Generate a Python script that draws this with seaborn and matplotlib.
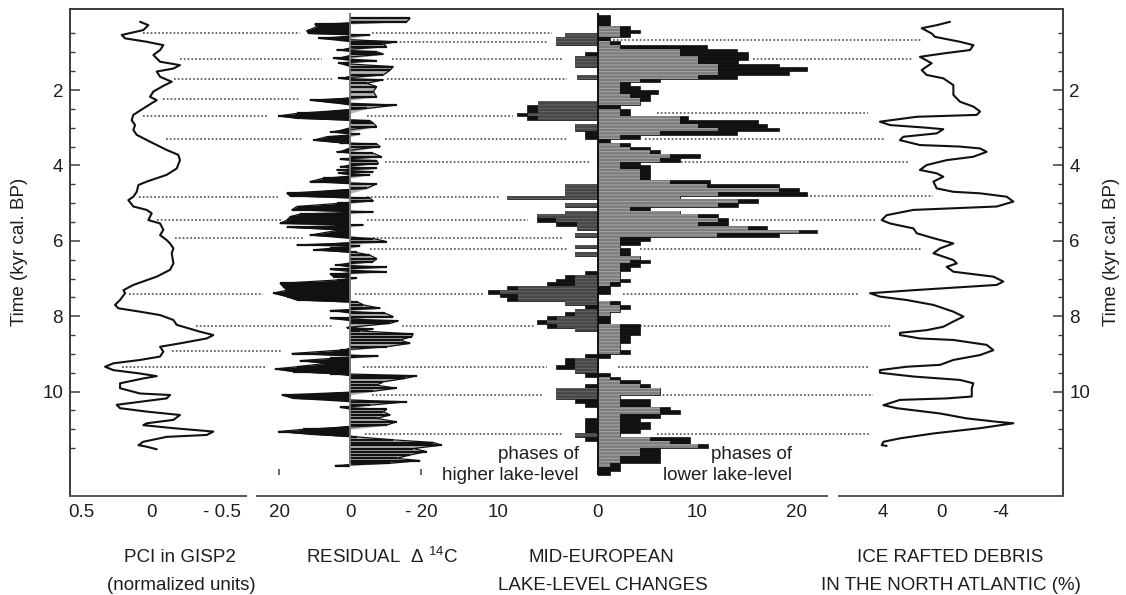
import numpy as np
import matplotlib
matplotlib.use("Agg")
import matplotlib.pyplot as plt
import seaborn as sns

# ---------------- data ----------------
# PCI in GISP2 (normalized units) vs time (kyr cal. BP)
pci_time = [0.19, 0.28, 0.41, 0.54, 0.63, 0.72, 0.81, 0.94, 1.07, 1.25,
            1.34, 1.43, 1.51, 1.65, 1.78, 1.89, 2.04, 2.18, 2.27, 2.35,
            2.49, 2.66, 2.80, 2.93, 3.06, 3.19, 3.37, 3.59, 3.72, 3.86,
            4.08, 4.25, 4.43, 4.52, 4.70, 4.83, 4.92, 5.09, 5.18, 5.27,
            5.45, 5.54, 5.71, 5.85, 5.98, 6.07, 6.20, 6.33, 6.60, 6.77,
            6.95, 7.17, 7.31, 7.39, 7.57, 7.70, 7.79, 7.88, 7.97, 8.10,
            8.23, 8.41, 8.50, 8.59, 8.72, 8.81, 8.94, 9.07, 9.16, 9.25,
            9.34, 9.43, 9.52, 9.59, 9.65, 9.78, 9.91, 10.05, 10.09, 10.18,
            10.27, 10.35, 10.44, 10.53, 10.62, 10.75, 10.84, 10.89, 10.97, 11.06,
            11.15, 11.20, 11.33, 11.42, 11.46, 11.53]
pci_value = [0.083, 0.024, 0.060, 0.214, 0.190, 0.036, -0.083, -0.060, -0.012, -0.060,
             -0.202, -0.155, -0.036, -0.060, -0.143, -0.083, -0.012, 0.012, -0.036, 0.000,
             0.060, 0.131, 0.143, 0.119, 0.131, 0.107, 0.012, -0.107, -0.190, -0.202,
             -0.179, -0.107, 0.036, 0.095, 0.107, 0.131, 0.167, 0.131, 0.036, 0.000,
             0.024, -0.060, -0.083, -0.060, -0.107, -0.131, -0.155, -0.143, -0.155, -0.131,
             -0.036, 0.131, 0.202, 0.190, 0.226, 0.262, 0.238, 0.083, -0.060, -0.155,
             -0.179, -0.345, -0.440, -0.393, -0.202, -0.060, -0.083, -0.060, 0.083, 0.274,
             0.333, 0.274, 0.083, -0.036, 0.060, 0.226, 0.226, 0.083, -0.131, -0.107,
             0.083, 0.250, 0.226, 0.036, -0.202, -0.155, 0.036, 0.060, -0.155, -0.440,
             -0.393, -0.107, 0.060, 0.095, 0.036, -0.036]

# Residual delta 14C
res_time = [0.10, 0.19, 0.25, 0.32, 0.43, 0.50, 0.54, 0.63, 0.72, 0.78,
            0.85, 0.94, 0.98, 1.05, 1.16, 1.22, 1.29, 1.38, 1.47, 1.60,
            1.69, 1.73, 1.82, 1.91, 2.04, 2.18, 2.27, 2.33, 2.40, 2.49,
            2.62, 2.69, 2.75, 2.81, 2.88, 2.97, 3.11, 3.17, 3.24, 3.33,
            3.40, 3.43, 3.50, 3.64, 3.68, 3.77, 3.84, 3.87, 3.95, 4.03,
            4.08, 4.12, 4.17, 4.21, 4.25, 4.34, 4.43, 4.49, 4.61, 4.74,
            4.81, 4.87, 4.94, 5.01, 5.09, 5.18, 5.23, 5.29, 5.36, 5.45,
            5.54, 5.58, 5.64, 5.71, 5.85, 5.94, 6.02, 6.11, 6.14, 6.20,
            6.24, 6.31, 6.38, 6.47, 6.55, 6.64, 6.70, 6.76, 6.82, 6.88,
            6.95, 6.99, 7.04, 7.13, 7.22, 7.31, 7.39, 7.48, 7.57, 7.63,
            7.70, 7.79, 7.85, 7.92, 8.01, 8.06, 8.12, 8.19, 8.30, 8.34,
            8.39, 8.47, 8.54, 8.63, 8.72, 8.81, 8.90, 8.99, 9.06, 9.12,
            9.18, 9.25, 9.34, 9.40, 9.47, 9.52, 9.58, 9.65, 9.74, 9.83,
            9.91, 9.99, 10.09, 10.18, 10.27, 10.36, 10.42, 10.47, 10.53, 10.62,
            10.71, 10.80, 10.89, 11.00, 11.06, 11.13, 11.20, 11.28, 11.35, 11.42,
            11.51, 11.59, 11.68, 11.77, 11.83, 11.90, 11.96]
res_value = [-16.9, -16.0, 9.9, 9.4, 12.2, 11.7, -5.6, 8.9, -13.1, -9.4,
             -10.3, 3.8, -7.5, -9.4, 4.7, -7.5, 3.3, -12.2, -11.3, -9.4,
             3.3, -9.4, -4.7, -7.5, -6.6, -7.5, 11.3, 5.6, -13.1, -4.7,
             15.0, 20.2, 15.0, -5.6, -6.6, -7.5, 5.6, -2.8, 6.6, 10.3,
             2.8, -7.5, -8.5, 3.8, -6.6, -8.9, 2.8, -7.5, -8.0, 2.8,
             -7.5, 3.8, -6.6, 3.3, -5.6, 7.5, 11.3, -7.5, -4.7, 17.8,
             16.9, -5.6, -6.6, 3.8, 15.0, 16.4, -6.6, 14.1, 16.9, 17.8,
             19.7, -3.8, 17.8, 2.8, 11.3, -6.6, -10.3, 15.0, -2.8, 5.6,
             10.3, -1.9, -5.6, -7.5, -6.6, 4.2, -10.3, 5.6, -10.3, 5.6,
             4.7, -1.9, 3.8, 19.7, 18.8, 17.8, 21.6, 17.8, 15.0, -2.3,
             -3.8, -8.5, 5.6, -9.9, -12.2, 5.6, -13.6, -11.3, 0.9, -6.6,
             -2.8, -17.8, -17.4, -14.1, -16.9, -10.3, 2.8, 16.4, -8.0, 5.6,
             14.1, 6.6, 15.0, 21.1, 16.0, 5.6, -18.8, -15.5, -9.4, -7.5,
             -13.1, -6.6, 19.2, 16.0, -16.0, -5.6, 2.8, -10.3, -9.4, -11.3,
             -7.5, -13.1, -10.3, 13.1, 20.2, 11.3, -1.9, -12.2, -23.5, -25.8,
             -17.8, -21.6, -16.9, -13.1, -19.7, -11.3, 4.2]

# Mid-European lake-level changes, 0.1 kyr bins starting at 0.0 kyr
lake_bin_start = 0.0
lake_bin_width = 0.1
lower_outer = [1.2, 1.2, 1.2, 3.2, 4.3, 3.2, 1.2, 2.2, 11.0, 14.0,
               15.1, 15.1, 14.1, 18.2, 21.0, 19.2, 14.0, 6.3, 3.2, 4.3,
               6.1, 5.3, 5.3, 4.3, 2.2, 3.2, 3.2, 9.1, 16.1, 17.0,
               18.2, 14.0, 4.3, 1.2, 3.2, 5.3, 6.3, 10.3, 8.3, 4.3,
               5.3, 5.3, 5.3, 5.3, 11.3, 18.2, 20.2, 21.0, 8.3, 16.1,
               14.1, 5.3, 8.3, 12.1, 13.1, 13.1, 17.0, 22.0, 18.2, 5.3,
               4.3, 2.2, 3.2, 3.2, 4.3, 5.3, 4.3, 3.2, 2.2, 2.2,
               3.2, 2.2, 1.2, 1.2, 0.0, 0.0, 2.2, 3.2, 2.2, 1.2,
               1.2, 1.2, 4.3, 4.3, 4.3, 3.2, 3.2, 2.2, 2.2, 3.2,
               1.2, 0.0, 0.0, 0.0, 0.0, 1.2, 2.2, 4.3, 5.3, 6.3,
               6.3, 2.2, 5.3, 5.3, 7.3, 8.3, 6.3, 4.3, 5.3, 5.3,
               4.3, 2.2, 9.3, 9.3, 11.1, 6.3, 6.3, 6.3, 6.3, 2.2,
               2.2, 1.2]
lower_inner = [0.0, 0.0, 0.0, 2.2, 2.2, 2.2, 0.0, 1.2, 2.2, 8.3,
               8.3, 10.1, 10.1, 12.1, 12.1, 12.1, 10.1, 4.3, 2.2, 2.2,
               2.2, 3.2, 4.3, 4.3, 0.0, 2.2, 2.2, 8.3, 8.3, 10.1,
               12.1, 6.3, 2.2, 0.0, 2.2, 3.2, 5.3, 7.3, 6.3, 2.2,
               2.2, 4.3, 4.3, 4.3, 7.3, 11.0, 18.2, 12.1, 8.3, 14.1,
               12.1, 3.2, 8.3, 10.1, 12.1, 10.1, 15.1, 20.2, 12.0, 2.2,
               2.2, 2.2, 2.2, 2.2, 4.3, 3.2, 2.2, 2.2, 2.2, 2.2,
               2.2, 1.2, 0.0, 0.0, 0.0, 0.0, 1.2, 2.2, 2.2, 1.2,
               0.0, 0.0, 2.2, 2.2, 2.2, 2.2, 2.2, 2.2, 2.2, 2.2,
               0.0, 0.0, 0.0, 0.0, 0.0, 0.0, 1.2, 2.2, 4.3, 6.3,
               6.3, 2.2, 2.2, 2.2, 6.3, 6.3, 2.2, 2.2, 2.2, 2.2,
               2.2, 2.2, 5.3, 7.3, 10.1, 4.3, 4.3, 2.2, 2.2, 1.2,
               0.0, 0.0]
higher_outer = [0.0, 0.0, 0.0, 0.0, 0.0, 3.3, 4.2, 4.2, 0.0, 0.0,
                1.3, 2.3, 2.3, 2.3, 0.0, 0.0, 2.1, 0.0, 0.0, 0.0,
                0.0, 0.0, 0.0, 6.0, 7.1, 7.1, 8.1, 7.1, 0.0, 2.3,
                2.3, 1.3, 1.3, 0.0, 0.0, 0.0, 0.0, 0.0, 0.0, 0.0,
                0.0, 0.0, 0.0, 0.0, 0.0, 3.3, 3.3, 3.3, 9.1, 0.0,
                3.3, 0.0, 3.3, 6.1, 6.1, 4.2, 2.1, 0.0, 2.3, 0.0,
                0.0, 2.3, 0.0, 2.3, 0.0, 0.0, 0.0, 0.0, 1.3, 3.3,
                4.2, 5.1, 9.1, 11.0, 9.8, 9.1, 3.3, 1.3, 2.3, 3.3,
                5.1, 6.1, 5.1, 2.3, 0.0, 0.0, 0.0, 0.0, 0.0, 0.0,
                1.3, 3.3, 3.3, 4.2, 2.3, 1.3, 0.0, 0.0, 1.3, 4.2,
                4.2, 4.2, 2.3, 1.3, 0.0, 0.0, 0.0, 1.3, 1.3, 1.3,
                1.3, 2.3, 1.3, 0.0, 0.0, 0.0, 0.0, 0.0, 0.0, 0.0,
                0.0, 0.0]
higher_inner = [0.0, 0.0, 0.0, 0.0, 0.0, 3.3, 4.2, 4.2, 0.0, 0.0,
                0.0, 2.3, 2.3, 2.3, 0.0, 0.0, 2.1, 0.0, 0.0, 0.0,
                0.0, 0.0, 0.0, 6.0, 6.0, 6.0, 7.0, 6.0, 0.0, 2.3,
                2.3, 0.0, 0.0, 0.0, 0.0, 0.0, 0.0, 0.0, 0.0, 0.0,
                0.0, 0.0, 0.0, 0.0, 0.0, 3.3, 3.3, 3.3, 9.1, 0.0,
                3.3, 0.0, 3.3, 6.1, 4.2, 2.1, 2.1, 0.0, 2.3, 0.0,
                0.0, 2.3, 0.0, 2.3, 0.0, 0.0, 0.0, 0.0, 0.0, 2.3,
                2.3, 2.3, 8.0, 9.8, 8.0, 8.0, 3.3, 0.0, 2.3, 2.3,
                4.1, 5.1, 4.1, 2.3, 0.0, 0.0, 0.0, 0.0, 0.0, 0.0,
                0.0, 2.3, 2.3, 2.3, 2.3, 0.0, 0.0, 0.0, 0.0, 4.2,
                4.2, 4.2, 0.0, 0.0, 0.0, 0.0, 0.0, 0.0, 0.0, 0.0,
                0.0, 2.3, 0.0, 0.0, 0.0, 0.0, 0.0, 0.0, 0.0, 0.0,
                0.0, 0.0]

# Ice rafted debris in the North Atlantic (%)
ird_time = [0.19, 0.28, 0.36, 0.50, 0.59, 0.72, 0.81, 0.94, 1.03, 1.12,
            1.29, 1.47, 1.60, 1.69, 1.87, 2.13, 2.31, 2.44, 2.57, 2.66,
            2.71, 2.84, 2.93, 3.00, 3.04, 3.15, 3.24, 3.33, 3.46, 3.50,
            3.55, 3.64, 3.77, 3.86, 3.99, 4.12, 4.21, 4.30, 4.43, 4.61,
            4.70, 4.74, 4.83, 4.96, 5.09, 5.18, 5.32, 5.45, 5.54, 5.67,
            5.80, 5.93, 6.07, 6.20, 6.33, 6.51, 6.60, 6.69, 6.82, 6.95,
            7.08, 7.17, 7.31, 7.39, 7.48, 7.57, 7.70, 7.88, 8.01, 8.14,
            8.28, 8.37, 8.44, 8.50, 8.59, 8.63, 8.76, 8.90, 9.03, 9.16,
            9.29, 9.34, 9.43, 9.50, 9.60, 9.69, 9.78, 9.91, 10.13, 10.18,
            10.22, 10.36, 10.44, 10.58, 10.71, 10.80, 10.84, 10.97, 11.11, 11.24,
            11.33, 11.42, 11.44]
ird_value = [-0.57, 0.34, 1.37, 0.69, 0.46, -1.25, -2.17, -1.94, -0.11, 1.49,
             0.69, 1.37, 1.03, -0.11, -0.80, -0.80, -1.25, -2.17, -2.63, -2.40,
             1.71, 4.23, 3.54, 1.03, -0.11, 0.34, 2.63, 2.86, 1.49, -1.25,
             -2.63, -3.08, -2.17, -0.34, 1.03, 1.49, 0.34, -0.11, 0.57, 0.34,
             -0.80, -2.63, -4.45, -4.91, -3.77, 1.94, 3.77, 4.11, 3.54, 1.94,
             1.71, 0.57, -0.80, 0.11, 0.57, -0.80, -1.03, -0.34, -0.80, -3.54,
             -4.22, -3.77, 1.94, 4.91, 4.23, 2.40, 0.57, -0.80, -1.49, -0.80,
             -0.11, 1.03, 2.86, 2.86, 1.49, -0.80, -3.08, -3.54, -2.63, -0.80,
             0.11, 2.40, 4.23, 4.23, 1.94, -1.25, -2.17, -2.06, -2.06, -0.34,
             2.86, 3.99, 3.08, 0.11, -1.71, -3.77, -4.91, -2.63, 0.57, 2.86,
             3.99, 4.11, 3.77]

# dotted correlation lines: (time, x-start px, x-end px)
dotted_time = [0.50, 0.50, 0.72, 0.67, 1.19, 1.19, 1.19, 1.71, 1.71, 2.25,
               2.70, 2.70, 2.60, 3.30, 3.30, 3.30, 3.90, 3.90, 4.85, 4.85,
               4.80, 5.45, 5.45, 5.45, 5.92, 5.92, 6.22, 6.22, 7.40, 7.40,
               7.40, 8.27, 8.27, 8.27, 8.92, 9.35, 9.35, 9.35, 10.10, 10.10,
               11.12, 11.12]
dotted_x0 = [143, 372, 392, 613, 180, 392, 753, 174, 387, 163,
             143, 367, 657, 166, 385, 645, 385, 658, 139, 367,
             753, 157, 367, 732, 175, 373, 370, 640, 129, 355,
             623, 196, 402, 640, 172, 122, 363, 618, 372, 655,
             365, 657]
dotted_x1 = [300, 552, 548, 922, 322, 563, 912, 332, 567, 300,
             267, 513, 868, 303, 567, 885, 590, 910, 278, 500,
             933, 282, 528, 875, 303, 562, 567, 922, 263, 483,
             858, 333, 535, 890, 282, 267, 547, 870, 542, 873,
             562, 870]

# ---------------- layout ----------------
W, H = 1126, 595
FL, FR, FT, FB = 70.0, 1062.5, 9.3, 495.7       # frame in pixels
T_TOP, T_BOT = -0.141, 12.761                    # time at frame top / bottom

sns.set_theme(style="white")
plt.rcParams['font.family'] = ['Liberation Sans', 'DejaVu Sans']
plt.rcParams['mathtext.fontset'] = 'custom'
plt.rcParams['mathtext.rm'] = 'Liberation Sans'
plt.rcParams['mathtext.it'] = 'Liberation Sans:italic'
plt.rcParams['hatch.linewidth'] = 0.6

FS = 13.5
TXT = '#1e1e1e'
INK = '#111111'
SPINE = '#3c3c3c'

fig = plt.figure(figsize=(W / 100, H / 100), dpi=100)
fig.patch.set_facecolor('white')
rect = [FL / W, 1 - FB / H, (FR - FL) / W, (FB - FT) / H]

ax = fig.add_axes(rect)
ax.set_xlim(0, 1)
ax.set_ylim(T_BOT, T_TOP)
ax.set_facecolor('white')
ax.grid(False)
for s in ['top', 'left', 'right']:
    ax.spines[s].set_color(SPINE)
    ax.spines[s].set_linewidth(1.4)
ax.spines['bottom'].set_visible(False)
ax.set_xticks([])
ax.set_yticks([2, 4, 6, 8, 10])
ax.set_yticks(np.arange(0.5, 12.0, 0.5), minor=True)
ax.tick_params(axis='y', which='major', direction='in', length=7.5, width=1.1,
               color=SPINE, left=True, right=True, labelleft=True, labelright=True,
               labelsize=FS, pad=5, labelcolor=TXT)
ax.tick_params(axis='y', which='minor', direction='in', length=3.8, width=1.0,
               color=SPINE, left=True, right=True)

# dotted correlation lines
ytr = ax.get_yaxis_transform()
for t, a, b in zip(dotted_time, dotted_x0, dotted_x1):
    ax.plot([(a - FL) / (FR - FL), (b - FL) / (FR - FL)], [t, t], transform=ytr,
            color='#3f3f3f', lw=1.1, ls=(0, (1.1, 1.4)), zorder=1)


def panel(zero_px, px_per_unit, direction, spine_px=None):
    pa = fig.add_axes(rect)
    lo = direction * (FL - zero_px) / px_per_unit
    hi = direction * (FR - zero_px) / px_per_unit
    pa.set_xlim(lo, hi)
    pa.set_ylim(T_BOT, T_TOP)
    pa.patch.set_alpha(0)
    pa.grid(False)
    for s in ['top', 'left', 'right']:
        pa.spines[s].set_visible(False)
    if spine_px is None:
        pa.spines['bottom'].set_visible(False)
    else:
        pa.spines['bottom'].set_color('#555555')
        pa.spines['bottom'].set_linewidth(1.4)
        pa.spines['bottom'].set_bounds(direction * (spine_px[0] - zero_px) / px_per_unit,
                                       direction * (spine_px[1] - zero_px) / px_per_unit)
    pa.set_yticks([])
    pa.tick_params(axis='x', direction='in', length=5, width=1.2, color='#444444',
                   labelsize=FS, pad=6, labelcolor=TXT)
    pa.set_xlabel('')
    pa.set_ylabel('')
    return pa


# PCI panel
pa = panel(151.7, 140.0, -1, spine_px=(FL, 245.7))
sns.lineplot(x=pci_value, y=pci_time, orient='y', sort=False, estimator=None,
             color=INK, lw=1.5, ax=pa)
pa.set_xticks([0.5, 0, -0.5], ['0.5', '0', '- 0.5'])
pa.xaxis.get_major_ticks()[0].tick1line.set_visible(False)

# Residual 14C panel
ra = panel(350.0, 3.55, -1)
rt = np.array(res_time)
rv = np.array(res_value)
ra.fill_betweenx(rt, 0, np.minimum(rv, 0), color='#b3b3b3', lw=0, zorder=2)
ra.fill_betweenx(rt, 0, np.maximum(rv, 0), color=INK, lw=0, zorder=3)
sns.lineplot(x=rv, y=rt, orient='y', sort=False, estimator=None,
             color=INK, lw=0.9, ax=ra, zorder=4)
ra.hlines(rt, 0, rv, color=INK, lw=1.6, zorder=4)
ra.vlines(0, rt.min() - 0.14, rt.max(), color='#777777', lw=1.4, zorder=5)
ra.vlines([20, -20], 12.06, 12.2, color='#444444', lw=1.1)
ra.set_xticks([20, 0, -20], ['20', '0', '- 20'])

# Lake-level panel
la = panel(597.7, 9.95, 1, spine_px=(257.3, 826.7))
n = len(lower_outer)
centers = lake_bin_start + lake_bin_width * (np.arange(n) + 0.5)
lo_o = np.array(lower_outer)
lo_i = np.array(lower_inner)
hi_o = np.array(higher_outer)
hi_i = np.array(higher_inner)
la.barh(centers, lo_o, height=lake_bin_width, color=INK, edgecolor=INK, lw=0.5, zorder=2)
la.barh(centers, lo_i, height=lake_bin_width, color='#7e7e7e', edgecolor='#ababab',
        lw=0, hatch='-----', zorder=3)
la.barh(centers, -hi_o, height=lake_bin_width, color=INK, edgecolor=INK, lw=0.5, zorder=2)
la.barh(centers, -hi_i, height=lake_bin_width, color='#474747', edgecolor='#6a6a6a',
        lw=0, hatch='-----', zorder=3)
la.vlines(0, lake_bin_start - 0.03, lake_bin_start + lake_bin_width * n,
          color=INK, lw=1.4, zorder=5)
la.set_xticks([-10, -5, 0, 5, 10, 15, 20], ['10', '', '0', '', '10', '', '20'])
la.text(-1.9, 11.68, 'phases of', ha='right', va='center', fontsize=FS, color=TXT)
la.text(-1.9, 12.22, 'higher lake-level', ha='right', va='center', fontsize=FS, color=TXT)
la.text(19.5, 11.68, 'phases of', ha='right', va='center', fontsize=FS, color=TXT)
la.text(19.5, 12.22, 'lower lake-level', ha='right', va='center', fontsize=FS, color=TXT)

# IRD panel
ia = panel(941.7, 14.6, -1, spine_px=(839.0, FR))
sns.lineplot(x=ird_value, y=ird_time, orient='y', sort=False, estimator=None,
             color=INK, lw=1.5, ax=ia)
ia.set_xticks([4, 2, 0, -2, -4, -6], ['4', '', '0', '', '-4', ''])

# y labels
fig.text(20 / W, 1 - 252 / H, 'Time (kyr cal. BP)', rotation=90, ha='center',
         va='center', fontsize=FS, color=TXT)
fig.text(1111 / W, 1 - 252 / H, 'Time (kyr cal. BP)', rotation=90, ha='center',
         va='center', fontsize=FS, color=TXT)


# bottom titles
def ftext(x, y, s):
    fig.text(x / W, 1 - y / H, s, ha='center', va='center', fontsize=FS, color=TXT)


ftext(180, 557, 'PCI in GISP2')
ftext(181, 585, '(normalized units)')
ftext(382, 557, r'RESIDUAL  Δ $^{14}$C')
ftext(601, 557, 'MID-EUROPEAN')
ftext(603, 585, 'LAKE-LEVEL CHANGES')
ftext(950, 557, 'ICE RAFTED DEBRIS')
ftext(951, 585, 'IN THE NORTH ATLANTIC (%)')

fig.savefig('out.png', dpi=100, facecolor='white')
